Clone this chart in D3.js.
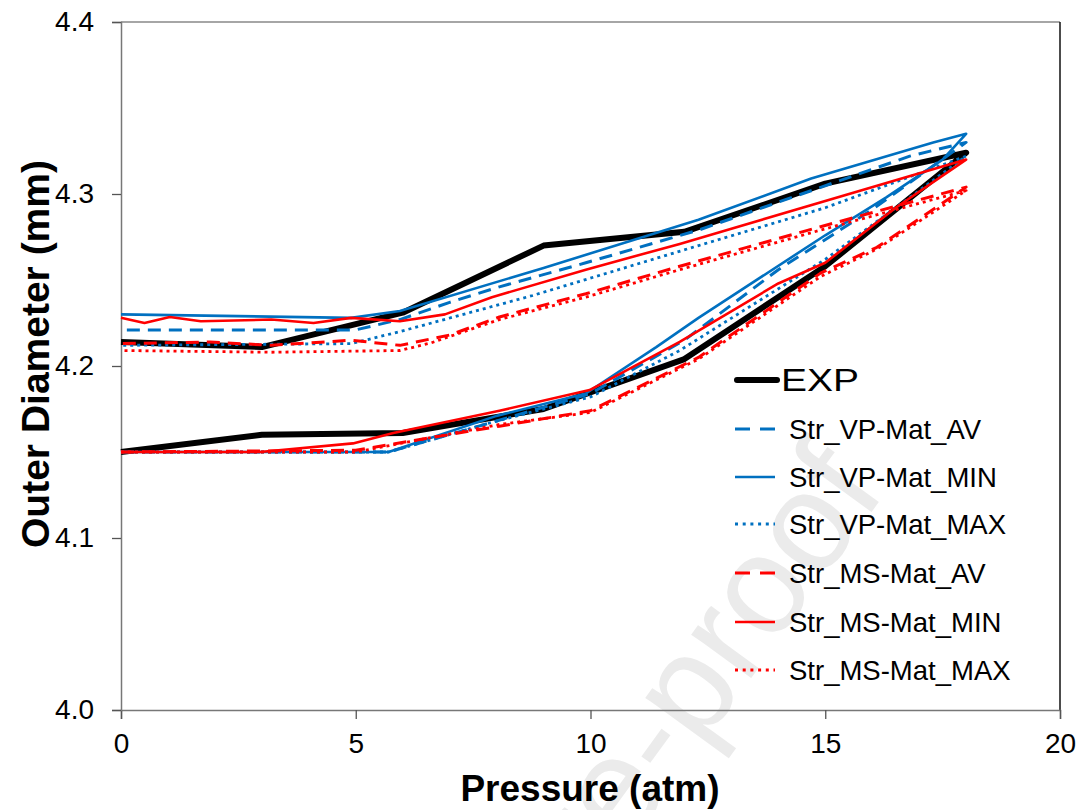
<!DOCTYPE html>
<html>
<head>
<meta charset="utf-8">
<script src="https://cdn.jsdelivr.net/npm/d3@7"></script>
<style>
  html, body { margin: 0; padding: 0; background: #fff; }
  svg { display: block; font-family: "Liberation Sans", Arial, sans-serif; }
</style>
</head>
<body>
<svg id="chart" width="1083" height="810"></svg>
<script>
// ---- data (loading branch then unloading branch) ----
const expP   = [0, 3, 6, 9, 12, 15, 18, 15, 12, 9, 6, 3, 0];
const expD   = [4.150, 4.160, 4.161, 4.175, 4.204, 4.258, 4.324, 4.306, 4.278, 4.270, 4.231, 4.211, 4.214];

const vpAvP  = [0, 5.7, 8, 10, 12, 14, 16, 18, 16.8, 12.3, 9.9, 8.06, 7, 5.94, 5, 0];
const vpAvD  = [4.150, 4.150, 4.168, 4.184, 4.215, 4.256, 4.291, 4.330, 4.322, 4.279, 4.260, 4.246, 4.237, 4.227, 4.221, 4.221];

const vpMinP = [0, 5.7, 8, 9.9, 11.4, 12.3, 15, 16.3, 17.5, 18, 17.3, 14.7, 12.3, 9, 5.94, 4.9, 0];
const vpMinD = [4.150, 4.150, 4.171, 4.184, 4.211, 4.228, 4.276, 4.298, 4.320, 4.335, 4.330, 4.309, 4.285, 4.257, 4.232, 4.228, 4.230];

const vpMaxP = [0, 5.7, 8, 10, 11.9, 15, 18, 15, 12.3, 8.77, 5.94, 4.9, 0];
const vpMaxD = [4.150, 4.150, 4.168, 4.182, 4.209, 4.262, 4.322, 4.292, 4.270, 4.241, 4.220, 4.213, 4.212];

const msAvP  = [0, 5, 8.06, 10, 12.3, 14.9, 16.1, 18, 14.9, 11.9, 9.9, 8.06, 7, 5.94, 4.9, 3.2, 1.9, 0];
const msAvD  = [4.150, 4.151, 4.165, 4.174, 4.205, 4.254, 4.269, 4.304, 4.281, 4.258, 4.242, 4.2285, 4.218, 4.212, 4.215, 4.212, 4.214, 4.213];

const msMinP = [0, 2.96, 4.94, 5.8, 8.06, 9.98, 11.9, 14, 15, 16.5, 18, 11.9, 9.9, 7.9, 6.9, 5.94, 4.9, 4.1, 3.2, 1.7, 1.04, 0.5, 0];
const msMinD = [4.150, 4.150, 4.155, 4.161, 4.174, 4.186, 4.214, 4.248, 4.260, 4.292, 4.320, 4.271, 4.256, 4.240, 4.230, 4.226, 4.228, 4.225, 4.227, 4.226, 4.2285, 4.225, 4.228];

const msMaxP = [0, 5, 8.06, 10, 12.3, 14.9, 16.1, 18, 14.9, 11.9, 9.9, 8.06, 6.6, 5.94, 3.2, 0];
const msMaxD = [4.150, 4.150, 4.166, 4.173, 4.204, 4.252, 4.268, 4.302, 4.279, 4.256, 4.240, 4.227, 4.2134, 4.209, 4.208, 4.209];

const seriesNames = ["EXP", "Str_VP-Mat_AV", "Str_VP-Mat_MIN", "Str_VP-Mat_MAX",
                     "Str_MS-Mat_AV", "Str_MS-Mat_MIN", "Str_MS-Mat_MAX"];
const xTicks = [0, 5, 10, 15, 20];
const yTicks = [4.0, 4.1, 4.2, 4.3, 4.4];

const BLUE = "#0070c0", RED = "#ff0000";

const series = [
  { name: seriesNames[0], p: expP,   d: expD,   color: "#000", width: 6,   dash: null,   key: null },
  { name: seriesNames[1], p: vpAvP,  d: vpAvD,  color: BLUE,   width: 3,   dash: "13,8", key: "15,10" },
  { name: seriesNames[2], p: vpMinP, d: vpMinD, color: BLUE,   width: 2.6, dash: null,   key: null },
  { name: seriesNames[3], p: vpMaxP, d: vpMaxD, color: BLUE,   width: 2.8, dash: "3,4",  key: "3,4.7" },
  { name: seriesNames[4], p: msAvP,  d: msAvD,  color: RED,    width: 3,   dash: "13,8", key: "15,10" },
  { name: seriesNames[5], p: msMinP, d: msMinD, color: RED,    width: 2.6, dash: null,   key: null },
  { name: seriesNames[6], p: msMaxP, d: msMaxD, color: RED,    width: 2.8, dash: "3,4",  key: "3,4.7" }
];

// ---- layout ----
const svg = d3.select("#chart");
const x = d3.scaleLinear().domain([0, 20]).range([121, 1060]);
const y = d3.scaleLinear().domain([4.0, 4.4]).range([710, 22]);

svg.append("rect").attr("width", 1083).attr("height", 810).attr("fill", "#fff");

// watermark
svg.append("text")
  .attr("transform", "translate(848,462) rotate(-54)")
  .attr("text-anchor", "end")
  .attr("dominant-baseline", "central")
  .attr("font-size", 140)
  .attr("fill", "#ebebeb")
  .text("Journal Pre-proof");

// frame
svg.append("line").attr("x1", 121).attr("x2", 1060).attr("y1", 22).attr("y2", 22)
  .attr("stroke", "#888").attr("stroke-width", 1.5);
svg.append("line").attr("x1", 1060).attr("x2", 1060).attr("y1", 22).attr("y2", 710)
  .attr("stroke", "#111").attr("stroke-width", 1.5);

// axes
const xAxis = svg.append("g").attr("transform", "translate(0,710)")
  .call(d3.axisBottom(x).tickValues(xTicks).tickSize(9).tickPadding(14).tickFormat(d3.format("d")));
const yAxis = svg.append("g").attr("transform", "translate(121,0)")
  .call(d3.axisLeft(y).tickValues(yTicks).tickSize(9).tickPadding(18).tickFormat(d3.format(".1f")));

[xAxis, yAxis].forEach(g => {
  g.select(".domain").attr("stroke", "#777").attr("stroke-width", 1.5);
  g.selectAll(".tick line").attr("stroke", "#555").attr("stroke-width", 1.3);
  g.selectAll(".tick text").attr("font-size", 28).attr("fill", "#000")
    .attr("font-family", "'Liberation Sans', Arial, sans-serif");
});

// axis titles
svg.append("text")
  .attr("x", 590).attr("y", 801)
  .attr("text-anchor", "middle")
  .attr("font-size", 37).attr("font-weight", "bold")
  .text("Pressure (atm)");

svg.append("text")
  .attr("transform", "translate(49,354) rotate(-90)")
  .attr("text-anchor", "middle")
  .attr("font-size", 39).attr("font-weight", "bold")
  .text("Outer Diameter (mm)");

// lines
const line = d3.line().x(d => x(d[0])).y(d => y(d[1]));
const plot = svg.append("g");
series.forEach(s => {
  const pts = s.p.map((v, i) => [v, s.d[i]]);
  plot.append("path")
    .attr("d", line(pts))
    .attr("fill", "none")
    .attr("stroke", s.color)
    .attr("stroke-width", s.width)
    .attr("stroke-linejoin", "round")
    .attr("stroke-dasharray", s.dash);
});

// legend
const legendY = [380, 429, 477, 524, 573, 622, 670];
const legend = svg.append("g");
series.forEach((s, i) => {
  const isExp = i === 0;
  legend.append("line")
    .attr("x1", isExp ? 737 : 735).attr("x2", isExp ? 777 : 775)
    .attr("y1", legendY[i]).attr("y2", legendY[i])
    .attr("stroke", s.color)
    .attr("stroke-width", s.width)
    .attr("stroke-linecap", isExp ? "round" : "butt")
    .attr("stroke-dasharray", s.key);
  const t = legend.append("text")
    .attr("x", isExp ? 781 : 789)
    .attr("y", legendY[i])
    .attr("dominant-baseline", "central")
    .attr("font-size", isExp ? 32 : 27.5)
    .text(s.name);
  if (isExp) t.attr("textLength", 78).attr("lengthAdjust", "spacingAndGlyphs");
});
</script>
</body>
</html>
